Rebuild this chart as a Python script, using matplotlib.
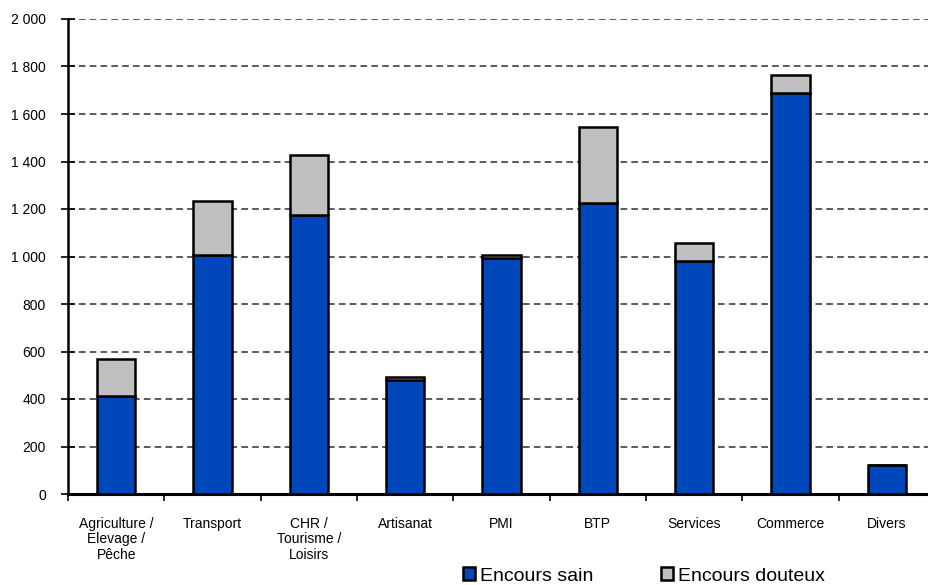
import matplotlib
matplotlib.use("Agg")
import matplotlib.pyplot as plt
import numpy as np

plt.rcParams['font.family'] = ['Liberation Sans', 'DejaVu Sans']

categories = ["Agriculture /\nElevage /\nPêche", "Transport", "CHR /\nTourisme /\nLoisirs",
              "Artisanat", "PMI", "BTP", "Services", "Commerce", "Divers"]
encours_sain = [413, 1006, 1175, 480, 994, 1224, 981, 1687, 122]
encours_douteux = [155, 228, 252, 14, 12, 320, 77, 77, 1]
yticks = [0, 200, 400, 600, 800, 1000, 1200, 1400, 1600, 1800, 2000]
ytick_labels = ["0", "200", "400", "600", "800", "1 000", "1 200", "1 400", "1 600", "1 800", "2 000"]

W, H = 929, 585
fig = plt.figure(figsize=(W / 100, H / 100), dpi=100)
ax = fig.add_axes([68 / W, (H - 494) / H, (935 - 68) / W, (494 - 19) / H])

x = np.arange(len(categories))
blue = "#0047BB"
grey = "#C0C0C0"
b1 = ax.bar(x, encours_sain, width=0.4, color=blue, edgecolor="black", linewidth=1.8,
            label="Encours sain", zorder=3)
b2 = ax.bar(x, encours_douteux, bottom=encours_sain, width=0.4, color=grey,
            edgecolor="black", linewidth=1.8, label="Encours douteux", zorder=3)

ax.set_xlim(-0.5, len(categories) - 0.5)
ax.set_ylim(0, 2000)
ax.set_yticks(yticks)
ax.set_yticklabels(ytick_labels, fontsize=10)
ax.yaxis.grid(True, linestyle=(0, (4, 2.5)), color="#404040", linewidth=1.2, zorder=0)

# category boundaries as tick marks, labels at centres
ax.set_xticks(np.arange(len(categories) + 1) - 0.5)
ax.set_xticklabels([])
ax.set_xticks(x, minor=True)
ax.set_xticklabels(categories, minor=True, fontsize=10, linespacing=1.12)
ax.tick_params(axis="x", which="major", direction="out", length=5, width=1.2)
ax.tick_params(axis="x", which="minor", length=0, pad=16.5)
ax.tick_params(axis="y", direction="inout", length=10, width=1.2, pad=11)

for s in ["top", "right"]:
    ax.spines[s].set_visible(False)
ax.spines["left"].set_linewidth(1.8)
ax.spines["bottom"].set_linewidth(2.2)

fig.legend(handles=[b1, b2], loc="center", bbox_to_anchor=(644 / W, 1 - 576 / H),
           ncol=2, frameon=False, fontsize=14, handlelength=0.6, handleheight=0.6,
           handletextpad=0.25, columnspacing=3.5, borderpad=0)

fig.savefig("out.png", dpi=100)
